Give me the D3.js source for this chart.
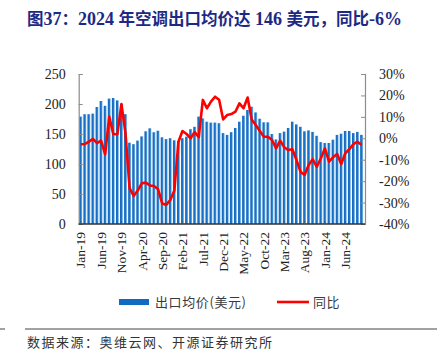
<!DOCTYPE html>
<html><head><meta charset="utf-8">
<script src="https://cdn.jsdelivr.net/npm/d3@7"></script>
<style>
html,body{margin:0;padding:0;background:#fff;}
svg{display:block;}
</style></head>
<body>
<svg id="c" width="440" height="364"></svg>
<script>
// ---- data ----
const tickLabels = ["Jan-19","Jun-19","Nov-19","Apr-20","Sep-20","Feb-21","Jul-21","Dec-21","May-22","Oct-22","Mar-23","Aug-23","Jan-24","Jun-24"];
const months = d3.timeMonths(new Date(2019,0,1), new Date(2024,10,1)).map(d3.timeFormat("%b-%y"));
const price = [179,183,183,184,195,205,197,209,210,206,200,183,
  135.5,133,139,146,154.5,159.5,153,155.5,144.5,141.5,143,139.5,
  138,143,145.5,158,162,179,176,170.5,169,169,168,151.5,
  148.5,153,160,170.5,180.5,190,195.5,186,175.5,169.5,169.5,150,
  141,151.5,154,160,170.5,166,162,154.5,156,153.5,147,136.5,
  135,135,140.5,148.5,150.5,155,155,151.5,153.5,148.5];
const yoy = [-2.8,-2.7,-1.6,-0.3,-2.3,-1.1,-7.5,10.1,2,1.9,16,2.3,
  -23.3,-26.9,-24.4,-21,-20.7,-22,-22.3,-23.8,-30.3,-31.1,-28.8,-24.4,
  -1.6,3.4,2,0,2.9,0.5,17.9,14,17.1,19.4,18,8.8,
  10.9,11.3,12.4,16.3,14,19,8.8,6.2,3.4,0.7,0.7,-0.8,
  -4.7,-1.1,-4.2,-5.5,-5.1,-10.1,-15.6,-17.1,-12.5,-9.8,-13.3,-9.3,
  -4.7,-10.9,-8.9,-7.3,-12,-7,-5.1,-2.7,-1.6,-3.1];
const leftTicks = [0,50,100,150,200,250];
const rightTicks = [-40,-30,-20,-10,0,10,20,30];
const legendLabels = ["出口均价(美元)","同比"];
const titleText = "图37：2024 年空调出口均价达 146 美元，同比-6%";
const sourceText = "数据来源：奥维云网、开源证券研究所";

// ---- layout ----
const svg = d3.select("#c");
const L = 78.7, R = 365, T = 74, B = 224;
const x = d3.scaleBand().domain(months).range([L, R - 1.4]).paddingInner(0.3).paddingOuter(0.15);
const y = d3.scaleLinear().domain([0,250]).range([B,T]);
const y2 = d3.scaleLinear().domain([-40,30]).range([B,T]);
const serif = "'Liberation Serif','Times New Roman',serif";
const cjk = "'Noto Sans CJK SC','Noto Sans',sans-serif";

const defs = svg.append("defs");
const g = defs.append("linearGradient").attr("id","bg").attr("x1","0").attr("x2","1").attr("y1","0").attr("y2","0");
g.append("stop").attr("offset","0").attr("stop-color","#1468bd");
g.append("stop").attr("offset","0.55").attr("stop-color","#1a74c8");
g.append("stop").attr("offset","1").attr("stop-color","#8ec0ec");

// title
const tt = svg.append("text").attr("x",27).attr("y",25).attr("fill","#1c2a85")
  .attr("font-weight","bold").attr("font-size",17);
const parts = titleText.split(/([0-9\-%]+|\s)/).filter(s=>s.length);
parts.forEach(p=>{
  const isLatin = /^[0-9\-% ]+$/.test(p);
  tt.append("tspan").attr("font-family", isLatin ? serif : cjk)
    .attr("font-size", isLatin ? 18 : 16.5).text(p);
});

// bars
svg.append("g").selectAll("rect").data(price).join("rect")
  .attr("x",(d,i)=>x(months[i]))
  .attr("width",x.bandwidth())
  .attr("y",d=>y(d))
  .attr("height",d=>B-y(d))
  .attr("fill","url(#bg)");

// axes
const axL = svg.append("g").attr("transform",`translate(${L},0)`)
  .call(d3.axisLeft(y).tickValues(leftTicks).tickSize(-4).tickPadding(13).tickFormat(d3.format("d")));
const axR = svg.append("g").attr("transform",`translate(${R},0)`)
  .call(d3.axisRight(y2).tickValues(rightTicks).tickSize(-4).tickPadding(14).tickFormat(d=>d+"%"));
const tickSet = new Set(tickLabels);
const axB = svg.append("g").attr("transform",`translate(0,${B})`)
  .call(d3.axisBottom(x).tickValues(months.filter(m=>tickSet.has(m))).tickSize(-3).tickSizeOuter(0).tickPadding(6));
[axL,axR].forEach(a=>{
  a.select(".domain").attr("stroke","#8c8c8c").attr("stroke-width",1.2);
  a.selectAll(".tick line").attr("stroke","#8c8c8c");
  a.selectAll("text").attr("font-family",serif).attr("font-size",14).attr("fill","#222");
});
axB.select(".domain").attr("stroke","#333").attr("stroke-width",1.4).attr("d",`M${L},0H${R}`);
axB.selectAll(".tick line").attr("stroke","#555");
axB.selectAll("text").attr("font-family",serif).attr("font-size",13.5).attr("fill","#222")
  .attr("transform","rotate(-90)").attr("text-anchor","end").attr("dy","0.35em").attr("x",-8).attr("y",0);
axR.selectAll("text").attr("text-anchor","start");

// line
const line = d3.line().x((d,i)=>x(months[i])+x.bandwidth()/2).y(d=>y2(d)).curve(d3.curveLinear);
svg.append("path").datum(yoy).attr("d",line).attr("fill","none")
  .attr("stroke","#ff0000").attr("stroke-width",2.6).attr("stroke-linejoin","round");

// legend
svg.append("rect").attr("x",119).attr("y",299).attr("width",30).attr("height",6).attr("fill","#0f6cc0");
svg.append("text").attr("x",155).attr("y",307).text(legendLabels[0])
  .attr("font-family",cjk).attr("font-size",13).attr("fill","#3a3a3a").attr("letter-spacing",0.6);
svg.append("line").attr("x1",277).attr("x2",309).attr("y1",302).attr("y2",302).attr("stroke","#ff0000").attr("stroke-width",2.6);
svg.append("text").attr("x",313).attr("y",307).text(legendLabels[1])
  .attr("font-family",cjk).attr("font-size",13).attr("fill","#3a3a3a").attr("letter-spacing",0.6);

// source
svg.append("line").attr("x1",25).attr("x2",437).attr("y1",329).attr("y2",329).attr("stroke","#444").attr("stroke-width",1);
svg.append("line").attr("x1",0).attr("x2",5).attr("y1",329).attr("y2",329).attr("stroke","#444").attr("stroke-width",1);
svg.append("text").attr("x",27).attr("y",347).text(sourceText)
  .attr("font-family",cjk).attr("font-size",13).attr("fill","#333").attr("letter-spacing",1.5);
</script>
</body></html>
